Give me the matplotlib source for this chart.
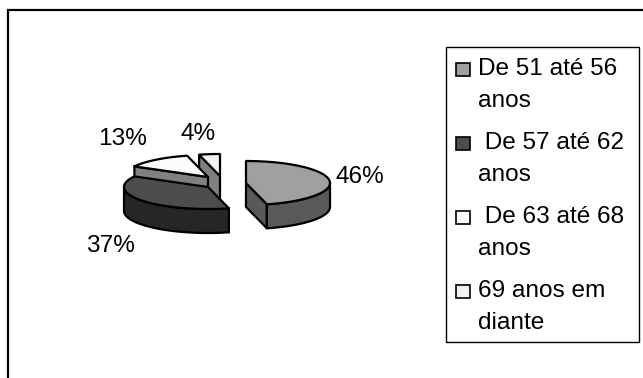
import numpy as np
import matplotlib
matplotlib.use('Agg')
import matplotlib.pyplot as plt
from matplotlib.patches import Polygon, Rectangle

plt.rcParams['font.family'] = ['Liberation Sans', 'DejaVu Sans']

categories = ['De 51 até 56\nanos', ' De 57 até 62\nanos', ' De 63 até 68\nanos', '69 anos em\ndiante']
shares = [46, 37, 13, 4]
share_labels = ['46%', '37%', '13%', '4%']

# pie layout, in pixels
apex = [(246, 183), (208, 187), (208, 177), (220, 176)]
label_pos = [(360, 177), (110, 246), (123, 139), (198, 134)]
rx, ry, depth = 84, 22, 24
top_colors = ['#a0a0a0', '#4d4d4d', '#fcfcfc', '#f2f2f2']
side_colors = ['#595959', '#262626', '#808080', '#808080']
legend_y = [70, 144, 218, 292]
font_size = 17.6
edge_w = 1.6

fig = plt.figure(figsize=(6.43, 3.78), dpi=100)
ax = fig.add_axes([0, 0, 1, 1])
ax.set_xlim(0, 643)
ax.set_ylim(378, 0)
ax.axis('off')


def rim(center, a):
    # point on the squashed pie rim, angle clockwise from 12 o'clock
    t = np.radians(a)
    return np.column_stack([center[0] + rx * np.sin(t), center[1] - ry * np.cos(t)])


def draw_slice(center, start, end, top, side):
    c = np.array(center, dtype=float)
    down = np.array([0, depth])
    p_start = rim(c, start)[0]
    p_end = rim(c, end)[0]
    # cut faces, only the ones turned to the viewer
    if start > 180:
        ax.add_patch(Polygon([c, p_start, p_start + down, c + down], fc=side, ec='black', lw=edge_w))
    if end < 180:
        ax.add_patch(Polygon([c, p_end, p_end + down, c + down], fc=side, ec='black', lw=edge_w))
    # outer wall on the front half
    lo, hi = max(start, 90), min(end, 270)
    if hi > lo:
        arc = rim(c, np.linspace(lo, hi, 60))
        ax.add_patch(Polygon(np.vstack([arc, (arc + down)[::-1]]), fc=side, ec='black', lw=edge_w))
    # top face
    arc = rim(c, np.linspace(start, end, 80))
    ax.add_patch(Polygon(np.vstack([c, arc]), fc=top, ec='black', lw=edge_w, joinstyle='round'))


edges = np.concatenate([[0], np.cumsum(shares)]) / sum(shares) * 360
for i in [3, 2, 1, 0]:
    draw_slice(apex[i], edges[i], edges[i + 1], top_colors[i], side_colors[i])

for (x, y), text in zip(label_pos, share_labels):
    ax.text(x, y, text, fontsize=font_size, ha='center', va='center', color='black')

# outer frame, open on the right and at the bottom
ax.plot([8, 8, 643], [378, 10, 10], color='black', lw=1.6, solid_joinstyle='miter')

# legend box
ax.add_patch(Rectangle((445.5, 46.5), 193.5, 295.5, fc='white', ec='black', lw=1))
for y, text, color in zip(legend_y, categories, top_colors):
    ax.add_patch(Rectangle((455.5, y - 7), 14, 13, fc=color, ec='black', lw=1.2))
    line1, line2 = text.split('\n')
    ax.text(478, y - 1, line1, fontsize=font_size, ha='left', va='center', color='black')
    ax.text(478, y + 31, line2, fontsize=font_size, ha='left', va='center', color='black')

fig.savefig('out.png', dpi=100)
